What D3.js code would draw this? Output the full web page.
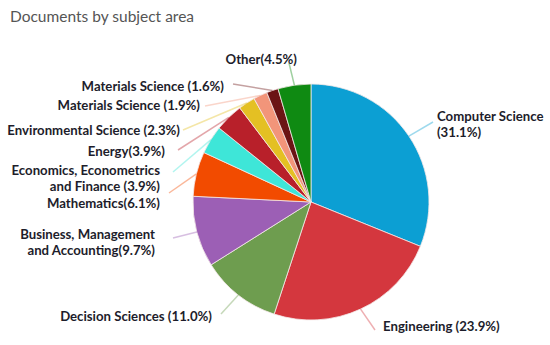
<!DOCTYPE html>
<html>
<head>
<meta charset="utf-8">
<script src="https://cdn.jsdelivr.net/npm/d3@7"></script>
<style>
  body { margin: 0; background: #fff; }
  text { font-family: Lato, "Open Sans", sans-serif; }
</style>
</head>
<body>
<script>
// subject areas, clockwise from 12 o'clock
var subjects = ["Computer Science", "Engineering", "Decision Sciences",
  "Business, Management and Accounting", "Mathematics",
  "Economics, Econometrics and Finance", "Energy", "Environmental Science",
  "Materials Science", "Materials Science", "Other"];
var percents = [31.1, 23.9, 11.0, 9.7, 6.1, 3.9, 3.9, 2.3, 1.9, 1.6, 4.5];
var labelText = [
  ["Computer Science", "(31.1%)"],
  ["Engineering (23.9%)"],
  ["Decision Sciences (11.0%)"],
  ["Business, Management", "and Accounting(9.7%)"],
  ["Mathematics(6.1%)"],
  ["Economics, Econometrics", "and Finance (3.9%)"],
  ["Energy(3.9%)"],
  ["Environmental Science (2.3%)"],
  ["Materials Science (1.9%)"],
  ["Materials Science (1.6%)"],
  ["Other(4.5%)"]
];
var colors = ["#0c9fd3", "#d4373e", "#6e9d4f", "#9c5fb5", "#f24b00",
  "#3ee6d8", "#b8202a", "#e4c023", "#f2957a", "#6b1414", "#0f8a12"];

var w = 550, h = 345;
var cx = 311, cy = 202, r = 118;

// where each label sits: text x, first baseline, anchor, leader end
var labelLayout = [
  {x: 437, y: 121, anchor: "start", lx: 433, ly: 122},
  {x: 383, y: 331, anchor: "start", lx: 375, ly: 330},
  {x: 212, y: 321, anchor: "end", lx: 221, ly: 314},
  {x: 155, y: 239, anchor: "end", lx: 173, ly: 238},
  {x: 160, y: 208, anchor: "end", lx: 169, ly: 193},
  {x: 160, y: 175, anchor: "end", lx: 173, ly: 172},
  {x: 165, y: 156, anchor: "end", lx: 178, ly: 150},
  {x: 180, y: 135, anchor: "end", lx: 183, ly: 130},
  {x: 200, y: 110, anchor: "end", lx: 205, ly: 106},
  {x: 224, y: 91, anchor: "end", lx: 233, ly: 84},
  {x: 297, y: 64, anchor: "end", lx: 289, ly: 63}
];

var svg = d3.select("body").append("svg")
  .attr("width", w)
  .attr("height", h);

svg.append("text")
  .attr("x", 10)
  .attr("y", 22)
  .attr("font-size", 15.5)
  .attr("fill", "#555")
  .text("Documents by subject area");

var pie = d3.pie().sort(null).value(d => d);
var arcs = pie(percents);
var arc = d3.arc().innerRadius(0).outerRadius(r);

var graph = svg.append("g")
  .attr("transform", `translate(${cx}, ${cy})`);

graph.selectAll("path")
  .data(arcs)
  .enter()
  .append("path")
  .attr("d", arc)
  .attr("fill", (d, i) => colors[i])
  .attr("stroke", "#f4e8e8")
  .attr("stroke-width", 0.8);

// leader lines from the slice edge to the labels
arcs.forEach(function(d, i) {
  var mid = (d.startAngle + d.endAngle) / 2;
  var x0 = cx + r * Math.sin(mid);
  var y0 = cy - r * Math.cos(mid);
  var lay = labelLayout[i];
  svg.append("line")
    .attr("x1", x0).attr("y1", y0)
    .attr("x2", lay.lx).attr("y2", lay.ly)
    .attr("stroke", colors[i])
    .attr("stroke-opacity", 0.4)
    .attr("stroke-width", 1.5);

  var t = svg.append("text")
    .attr("x", lay.x)
    .attr("y", lay.y)
    .attr("text-anchor", lay.anchor)
    .attr("font-size", 13.2)
    .attr("font-weight", "bold")
    .attr("fill", "#1d1d2b");
  labelText[i].forEach(function(s, j) {
    t.append("tspan")
      .attr("x", lay.x)
      .attr("dy", j == 0 ? 0 : 16)
      .text(s);
  });
});
</script>
</body>
</html>
